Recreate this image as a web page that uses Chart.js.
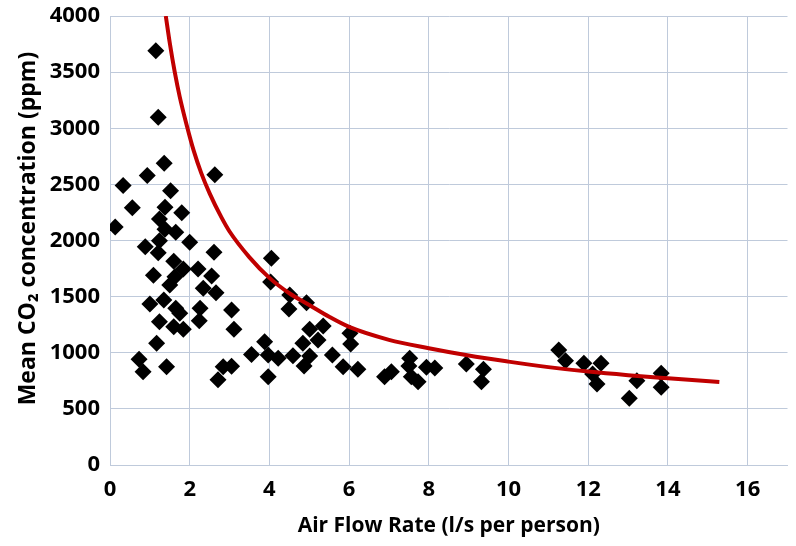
<!DOCTYPE html>
<html><head><meta charset="utf-8">
<script src="https://cdn.jsdelivr.net/npm/chart.js@4/dist/chart.umd.min.js"></script>
<style>html,body{margin:0;padding:0;background:#fff}canvas{display:block}</style>
</head><body>
<canvas id="c" width="796" height="546"></canvas>
<script>
// Measured points: air flow rate (l/s per person) and mean CO2 (ppm)
const flowRates = [0.13,0.33,0.56,0.73,0.83,0.885,0.935,1.0,1.09,1.15,1.17,1.21,1.21,1.24,1.24,1.24,1.35,1.36,1.38,1.38,1.42,1.50,1.52,1.60,1.63,1.65,1.65,1.60,1.75,1.80,1.84,1.84,2.0,2.21,2.24,2.26,2.34,2.55,2.61,2.63,2.66,2.71,2.84,3.05,3.05,3.11,3.55,3.88,3.97,3.97,4.05,4.03,4.22,4.51,4.49,4.59,4.84,4.93,4.87,5.01,5.01,5.22,5.35,5.58,5.85,6.02,6.04,6.22,6.89,7.06,7.52,7.50,7.56,7.73,7.94,8.15,8.94,9.37,9.32,11.26,11.43,11.89,12.32,12.11,12.22,13.03,13.22,13.83,13.83];
const co2Values = [2120,2490,2292,941,830,1945,2580,1434,1690,3690,1084,3097,1891,2192,1998,1277,1470,2688,2296,2100,875,1604,2444,1815,1678,2073,1396,1232,1351,2248,1745,1209,1984,1745,1286,1396,1574,1684,1895,2585,1535,760,876,880,1381,1209,985,1099,980,787,1841,1630,950,1514,1390,974,1084,1446,882,1209,971,1114,1238,980,876,1173,1078,852,787,831,950,882,787,742,870,865,900,853,742,1024,929,906,906,811,722,594,751,817,692];
// Fitted curve
const fitFlow = [1.40,1.50,1.625,1.75,1.93,2.1,2.29,2.5,2.79,3.0,3.5,4.0,4.5,5.0,5.5,6.0,7.0,8.0,9.0,10.0,11.0,12.0,13.0,14.0,15.29];
const fitCO2  = [4000,3760,3500,3280,3020,2800,2600,2420,2210,2080,1850,1667,1530,1425,1320,1230,1115,1040,975,921,872,832,800,773,740];
const xTickValues = [0,2,4,6,8,10,12,14,16];
const yTickValues = [0,500,1000,1500,2000,2500,3000,3500,4000];

const scatterData = flowRates.map((x,i)=>({x, y: co2Values[i]}));
const fitData = fitFlow.map((x,i)=>({x, y: fitCO2[i]}));
const gridColor = '#bfcadb';
const FONT = "'Open Sans', sans-serif";

new Chart(document.getElementById('c'), {
  type: 'scatter',
  data: { datasets: [
    { type:'line', data: fitData, borderColor:'#c00000', borderWidth:4, pointRadius:0, fill:false,
      cubicInterpolationMode:'monotone', showLine:true },
    { data: scatterData, pointStyle:'rectRot', pointRadius:8.5, backgroundColor:'#000', borderColor:'#000', borderWidth:0 }
  ]},
  options: {
    responsive:false, animation:false, devicePixelRatio:1,
    layout:{ padding:{ top:16, right:8, left:0, bottom:0 } },
    plugins:{ legend:{display:false}, tooltip:{enabled:false} },
    scales:{
      x:{ type:'linear', min:0, max:17,
        afterBuildTicks: s => { s.ticks = xTickValues.map(v=>({value:v})); },
        afterFit: s => { s.height = 81; s.paddingLeft = 0; s.paddingRight = 0; },
        grid:{ color:gridColor, drawTicks:false, lineWidth:1 },
        border:{ color:gridColor },
        ticks:{ padding:12, color:'#000', font:{family:FONT, size:22, weight:'bold'}, callback:v=>String(v), maxRotation:0 },
        title:{ display:true, text:'Air Flow Rate (l/s per person)', color:'#000', font:{family:FONT, size:21, weight:'bold'}, padding:{top:0,bottom:7} }
      },
      y:{ type:'linear', min:0, max:4000,
        afterBuildTicks: s => { s.ticks = yTickValues.map(v=>({value:v})); },
        afterFit: s => { s.width = 110; s.paddingTop = 0; s.paddingBottom = 0; },
        grid:{ color:gridColor, drawTicks:false, lineWidth:1 },
        border:{ color:gridColor },
        ticks:{ padding:10, color:'#000', font:{family:FONT, size:22, weight:'bold'}, callback:v=>String(v) },
        title:{ display:true, text:'    Mean CO₂ concentration (ppm)', color:'#000', font:{family:FONT, size:23, weight:'bold'}, padding:{top:15,bottom:0} }
      }
    }
  }
});
</script>
</body></html>
